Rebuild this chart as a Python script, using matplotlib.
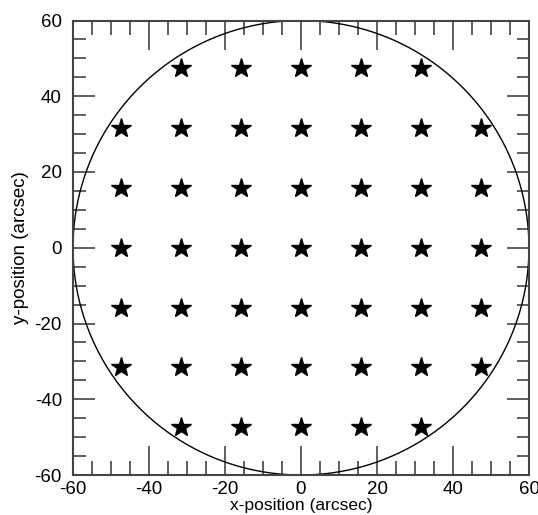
import numpy as np
import matplotlib.pyplot as plt
from matplotlib.ticker import MultipleLocator

plt.rcParams['font.family'] = ['Liberation Sans', 'DejaVu Sans']
plt.rcParams['axes.unicode_minus'] = False

# pointing grid offsets (arcsec)
step = 15.8
row_y = [3, 2, 1, 0, -1, -2, -3]
row_cols = [[-2, -1, 0, 1, 2],
            [-3, -2, -1, 0, 1, 2, 3],
            [-3, -2, -1, 0, 1, 2, 3],
            [-3, -2, -1, 0, 1, 2, 3],
            [-3, -2, -1, 0, 1, 2, 3],
            [-3, -2, -1, 0, 1, 2, 3],
            [-2, -1, 0, 1, 2]]
fov_radius = 60.0

xs, ys = [], []
for r, cols in zip(row_y, row_cols):
    for c in cols:
        xs.append(c * step)
        ys.append(r * step)

fig = plt.figure(figsize=(5.38, 5.15), dpi=100)
ax = fig.add_axes([73 / 538, 1 - 475 / 515, 456 / 538, 454.5 / 515])

theta = np.linspace(0, 2 * np.pi, 721)
ax.plot(fov_radius * np.cos(theta), fov_radius * np.sin(theta), color='black', lw=1.0)
ax.plot(xs, ys, ls='none', marker='*', ms=15, color='black', mec='black')

ax.set_xlim(-60, 60)
ax.set_ylim(-60, 60)
ax.xaxis.set_major_locator(MultipleLocator(20))
ax.yaxis.set_major_locator(MultipleLocator(20))
ax.xaxis.set_minor_locator(MultipleLocator(5))
ax.yaxis.set_minor_locator(MultipleLocator(5))
ax.tick_params(which='both', direction='in', top=True, right=True, color='#444444',
               width=1.2, labelsize=13.5, labelcolor='black')
ax.tick_params(axis='x', which='major', length=21, pad=4)
ax.tick_params(axis='x', which='minor', length=10)
ax.tick_params(axis='y', which='major', length=16, pad=8)
ax.tick_params(axis='y', which='minor', length=9)
for s in ax.spines.values():
    s.set_color('#444444')
    s.set_linewidth(1.5)

ax.set_xlabel('x-position (arcsec)', fontsize=12.5, labelpad=0.5)
ax.set_ylabel('y-position (arcsec)', fontsize=13.5, labelpad=4)

fig.savefig('out.png', dpi=100)
